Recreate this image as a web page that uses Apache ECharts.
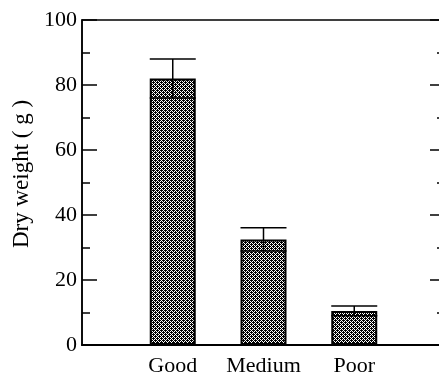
<!DOCTYPE html>
<html><head><meta charset="utf-8">
<script src="https://cdn.jsdelivr.net/npm/echarts@6/dist/echarts.min.js"></script>
<style>html,body{margin:0;padding:0;background:#fff}#c{width:439px;height:379px}</style>
</head><body><div id="c"></div>
<script>
const categories = ['Good', 'Medium', 'Poor'];
const values = [82, 32.5, 10.5];
const errors = [6, 3.6, 1.5];
const yTicks = [0, 20, 40, 60, 80, 100];
const yTitle = 'Dry weight ( g )';

// pad categories so bars sit at positions 1..3 of a 0..4 axis
const axisCats = [''].concat(categories, ['']);
const barData = ['-'].concat(values, ['-']);
const errData = categories.map((c, i) => [i + 1, values[i], values[i] - errors[i], values[i] + errors[i]]);

function makePattern() {
  const cv = document.createElement('canvas');
  cv.width = 4; cv.height = 4;
  const ctx = cv.getContext('2d');
  ctx.fillStyle = '#fff'; ctx.fillRect(0, 0, 4, 4);
  ctx.fillStyle = '#000';
  for (let x = 0; x < 4; x++) for (let y = 0; y < 4; y++) {
    if ((x + y) % 2 === 0 || (x === 3 && y === 0) || (x === 1 && y === 2)) ctx.fillRect(x, y, 1, 1);
  }
  return cv;
}

const BAR_W = 46;
const font = 'Liberation Serif';
const chart = echarts.init(document.getElementById('c'));
chart.setOption({
  animation: false,
  backgroundColor: '#fff',
  graphic: [{
    type: 'text', x: 22, y: 174, rotation: Math.PI / 2,
    style: { text: yTitle, fill: '#000', font: '23px "Liberation Serif"', align: 'center', verticalAlign: 'middle' }
  }],
  grid: { left: 82, top: 20, width: 363, height: 325, show: true, borderColor: '#000', borderWidth: 1.5, outerBoundsMode: 'none' },
  xAxis: {
    type: 'category', data: axisCats, boundaryGap: false,
    axisLine: { lineStyle: { color: '#000', width: 2 } },
    axisTick: { show: false },
    axisLabel: { color: '#000', fontFamily: font, fontSize: 22, margin: 10, interval: 0 }
  },
  yAxis: [{
    type: 'value', min: 0, max: 100, interval: 20, position: 'left',
    axisLine: { show: true, lineStyle: { color: '#000', width: 1.5 } },
    axisTick: { show: true, inside: true, length: 15, lineStyle: { color: '#000', width: 1.5 } },
    minorTick: { show: true, splitNumber: 2, length: 8, lineStyle: { color: '#000', width: 1.5 } },
    axisLabel: { color: '#000', fontFamily: font, fontSize: 22, margin: 5, formatter: v => yTicks.includes(v) ? String(v) : '' },
    splitLine: { show: false }
  }, {
    type: 'value', min: 0, max: 100, interval: 20, position: 'right',
    axisLine: { show: true, lineStyle: { color: '#000', width: 1.5 } },
    axisTick: { show: true, inside: true, length: 15, lineStyle: { color: '#000', width: 1.5 } },
    minorTick: { show: true, splitNumber: 2, length: 8, lineStyle: { color: '#000', width: 1.5 } },
    axisLabel: { show: false }, splitLine: { show: false }
  }],
  series: [{
    type: 'bar', data: barData, barWidth: BAR_W,
    itemStyle: { color: { image: makePattern(), repeat: 'repeat' }, borderColor: '#000', borderWidth: 2 }
  }, {
    type: 'custom', data: errData, z: 5,
    renderItem: function (params, api) {
      const x = api.value(0);
      const c = api.coord([x, api.value(1)]);
      const lo = api.coord([x, api.value(2)]);
      const hi = api.coord([x, api.value(3)]);
      const hw = BAR_W / 2;
      const st = { stroke: '#000', lineWidth: 1.5 };
      return { type: 'group', children: [
        { type: 'line', shape: { x1: c[0], y1: lo[1], x2: c[0], y2: hi[1] }, style: st },
        { type: 'line', shape: { x1: c[0] - hw, y1: hi[1], x2: c[0] + hw, y2: hi[1] }, style: st },
        { type: 'line', shape: { x1: c[0] - hw, y1: lo[1], x2: c[0] + hw, y2: lo[1] }, style: st }
      ]};
    }
  }]
});
</script></body></html>
